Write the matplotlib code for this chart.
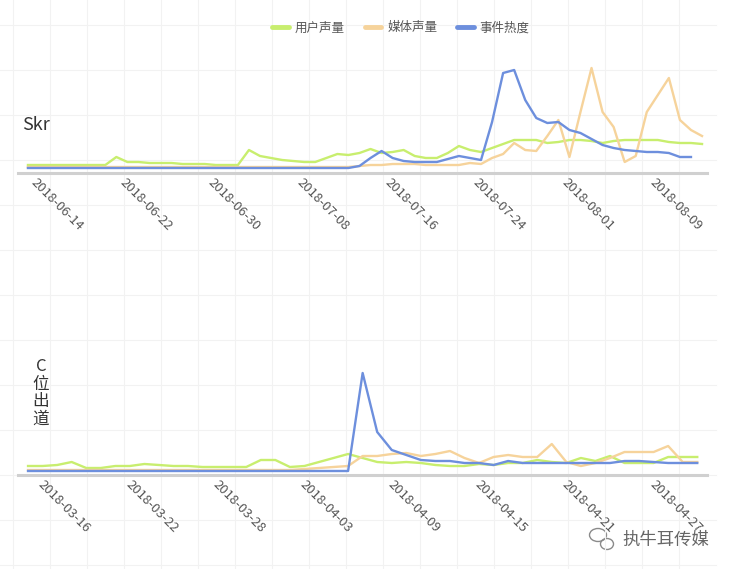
import matplotlib
matplotlib.use('Agg')
import matplotlib.pyplot as plt
from matplotlib.patches import Ellipse
from matplotlib.transforms import ScaledTranslation
import pandas as pd

plt.rcParams['font.family'] = ['Noto Sans CJK SC', 'DejaVu Sans']

# ---- data (arbitrary units) ----
series_names = ['用户声量', '媒体声量', '事件热度']
colors = ['#c8ee6e', '#f6d39b', '#6d8fdd']

skr_start = '2018-06-14'
skr_user = [5, 5, 5, 5, 5, 5, 5, 5, 13, 8, 8, 7, 7, 7, 6, 6, 6, 5, 5, 5,
            20, 14, 12, 10, 9, 8, 8, 12, 16, 15, 17, 21, 17, 18, 20, 14, 12, 12, 17, 24,
            20, 18, 22, 26, 30, 30, 30, 27, 28, 30, 30, 29, 27, 29, 30, 30, 30, 30, 28, 27,
            27, 26]
skr_media = [3, 3, 3, 3, 3, 3, 3, 3, 3, 3, 3, 3, 3, 3, 3, 3, 3, 3, 3, 3,
             3, 3, 3, 3, 3, 3, 3, 3, 3, 3, 4, 5, 5, 6, 6, 6, 5, 5, 5, 5,
             7, 6, 12, 16, 27, 20, 19, 34, 50, 13, 58, 102, 58, 43, 8, 14, 58, 75, 92, 50,
             40, 34]
skr_event = [2, 2, 2, 2, 2, 2, 2, 2, 2, 2, 2, 2, 2, 2, 2, 2, 2, 2, 2, 2,
             2, 2, 2, 2, 2, 2, 2, 2, 2, 2, 4, 12, 19, 12, 9, 8, 8, 8, 11, 14,
             12, 10, 48, 97, 100, 70, 52, 47, 48, 40, 37, 31, 25, 22, 20, 19, 18, 18, 17, 13,
             13]
skr_ticks = ['2018-06-14', '2018-06-22', '2018-06-30', '2018-07-08',
             '2018-07-16', '2018-07-24', '2018-08-01', '2018-08-09']

cw_start = '2018-03-16'
cw_user = [6, 6, 7, 10, 4, 4, 6, 6, 8, 7, 6, 6, 5, 5, 5, 5, 12, 12, 5, 6,
           10, 14, 18, 14, 10, 9, 10, 9, 7, 6, 6, 8, 7, 9, 9, 12, 10, 9, 14, 11,
           16, 9, 9, 9, 15, 15, 15]
cw_media = [2, 2, 2, 2, 2, 2, 2, 2, 2, 2, 2, 2, 2, 2, 2, 2, 2, 2, 2, 3,
            4, 5, 6, 16, 16, 18, 19, 16, 18, 21, 14, 9, 15, 17, 15, 15, 28, 10, 6, 9,
            14, 20, 20, 20, 26, 10, 10]
cw_event = [1, 1, 1, 1, 1, 1, 1, 1, 1, 1, 1, 1, 1, 1, 1, 1, 1, 1, 1, 1,
            1, 1, 1, 99, 40, 22, 17, 12, 11, 11, 9, 9, 7, 11, 9, 9, 9, 9, 9, 9,
            9, 11, 11, 10, 9, 9, 9]
cw_ticks = ['2018-03-16', '2018-03-22', '2018-03-28', '2018-04-03',
            '2018-04-09', '2018-04-15', '2018-04-21', '2018-04-27']

W, H = 736, 569
fig = plt.figure(figsize=(W / 100, H / 100), dpi=100)

# faint graph-paper background
bg = fig.add_axes([0, 0, 1, 1], zorder=0)
bg.set_xlim(0, W)
bg.set_ylim(H, 0)
bg.axis('off')
for gx in range(13, 716, 37):
    bg.plot([gx, gx], [0, H], color='#f2f2f2', lw=0.8)
for gy in range(25, H, 45):
    bg.plot([0, 716], [gy, gy], color='#f2f2f2', lw=0.8)


def draw(ax, start, user, media, event, ticks, lo, hi, dx):
    d0 = pd.Timestamp(start)
    for vals, c in zip([user, media, event], colors):
        dates = pd.date_range(d0, periods=len(vals), freq='D')
        ax.plot(dates, vals, color=c, lw=1.7, solid_joinstyle='round')
    ax.set_xlim(d0 + pd.Timedelta(days=lo), d0 + pd.Timedelta(days=hi))
    ax.set_ylim(-3, 110)
    ax.set_xticks(pd.to_datetime(ticks))
    ax.set_xticklabels([])
    ax.set_yticks([])
    ax.patch.set_alpha(0)
    for s in ['top', 'right', 'left']:
        ax.spines[s].set_visible(False)
    ax.spines['bottom'].set_color('#d0d0d0')
    ax.spines['bottom'].set_linewidth(2.2)
    ax.tick_params(axis='x', length=0)
    # rotated date labels, nudged like the echarts screenshot
    off = ScaledTranslation(dx / 100, -3 / 100, fig.dpi_scale_trans)
    for t in ticks:
        ax.text(pd.Timestamp(t), 0, t, transform=ax.get_xaxis_transform() + off,
                rotation=-45, rotation_mode='anchor', ha='left', va='top',
                fontsize=9.5, color='#555555')


ax1 = fig.add_axes([18 / W, (H - 173) / H, 689 / W, 113 / H], zorder=2)
draw(ax1, skr_start, skr_user, skr_media, skr_event, skr_ticks, -0.9, 61.45, 10)

ax2 = fig.add_axes([18 / W, (H - 475) / H, 689 / W, 113 / H], zorder=2)
draw(ax2, cw_start, cw_user, cw_media, cw_event, cw_ticks, -0.69, 46.67, 17)

handles = [plt.Line2D([], [], color=c, lw=3.5, solid_capstyle='round') for c in colors]
fig.legend(handles, series_names, loc='center', bbox_to_anchor=(401 / W, 1 - 28 / H),
           ncol=3, frameon=False, fontsize=9, handlelength=1.3, handletextpad=0.5,
           columnspacing=1.6, labelcolor='#555555')

fig.text(22 / W, 1 - 125 / H, 'Skr', fontsize=13, color='#333333', ha='left', va='center')
fig.text(41 / W, 1 - 393 / H, 'C\n位\n出\n道', fontsize=12, color='#333333',
         ha='center', va='center', linespacing=1.05)

# watermark
bg.add_patch(Ellipse((598, 535), 17, 13, fill=False, ec='#8a8a8a', lw=1))
bg.add_patch(Ellipse((607, 544), 13, 11, fill=False, ec='#8a8a8a', lw=1))
fig.text(622 / W, 1 - 540 / H, '执牛耳传媒', fontsize=12.5, color='#666666', ha='left', va='center')

fig.savefig('out.png', dpi=100)
